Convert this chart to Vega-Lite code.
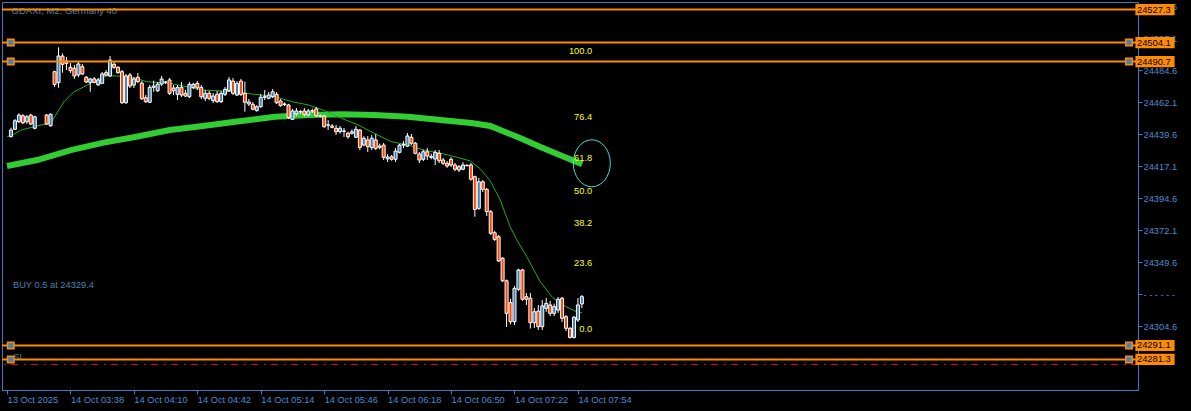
{
"$schema":"https://vega.github.io/schema/vega-lite/v6.json",
"width":1136,"height":388,
"autosize":{"type":"none"},
"padding":{"left":2,"top":2,"right":53,"bottom":21},
"background":"#000000",
"config":{"view":{"stroke":"#3f7cc4","strokeWidth":1},"font":"Liberation Sans",
 "axis":{"labelOverlap":false,"labelFlush":false,"labelBound":false,"grid":false,"domainColor":"#3f7cc4","tickColor":"#3f7cc4","labelColor":"#4d8ad4","labelFont":"Liberation Sans","labelFontSize":9.3,"tickSize":4},
 "axisY":{"labelOverlap":false,"labelBaseline":"middle","labelPadding":1,"tickCount":30},
 "axisX":{"labelOverlap":false,"labelAlign":"left","labelBaseline":"top","labelPadding":1,"tickCount":30}},
"datasets":{
"one":[{}],
"candles":[
{"i":1,"o":24437.9,"h":24444.2,"l":24437.5,"c":24442.6},
{"i":2,"o":24443.1,"h":24450.3,"l":24442.6,"c":24449.1},
{"i":3,"o":24448.4,"h":24454.3,"l":24447.7,"c":24453.1},
{"i":4,"o":24452.6,"h":24453.8,"l":24446.8,"c":24447.7},
{"i":5,"o":24448.4,"h":24453.1,"l":24447.0,"c":24451.9},
{"i":6,"o":24453.1,"h":24454.0,"l":24446.1,"c":24446.8},
{"i":7,"o":24443.8,"h":24452.6,"l":24443.1,"c":24451.9},
{"i":10,"o":24453.1,"h":24453.8,"l":24446.1,"c":24446.8},
{"i":11,"o":24445.6,"h":24454.3,"l":24444.9,"c":24453.6},
{"i":12,"o":24483.6,"h":24484.3,"l":24472.8,"c":24474.6},
{"i":13,"o":24475.9,"h":24500.7,"l":24472.3,"c":24494.6},
{"i":14,"o":24494.6,"h":24496.5,"l":24482.9,"c":24488.8},
{"i":15,"o":24491.1,"h":24494.0,"l":24484.8,"c":24489.5},
{"i":16,"o":24486.7,"h":24489.7,"l":24482.7,"c":24484.3},
{"i":17,"o":24486.0,"h":24488.3,"l":24478.5,"c":24480.6},
{"i":18,"o":24481.3,"h":24490.6,"l":24479.7,"c":24489.0},
{"i":19,"o":24487.1,"h":24489.0,"l":24481.3,"c":24482.0},
{"i":20,"o":24479.7,"h":24480.6,"l":24475.6,"c":24476.3},
{"i":21,"o":24476.1,"h":24479.2,"l":24469.5,"c":24478.5},
{"i":22,"o":24478.5,"h":24479.9,"l":24475.4,"c":24476.1},
{"i":23,"o":24474.4,"h":24479.2,"l":24473.5,"c":24477.8},
{"i":24,"o":24475.4,"h":24483.4,"l":24474.9,"c":24482.0},
{"i":25,"o":24482.9,"h":24484.8,"l":24480.6,"c":24481.1},
{"i":26,"o":24480.6,"h":24494.6,"l":24479.9,"c":24491.8},
{"i":27,"o":24488.8,"h":24490.4,"l":24485.5,"c":24486.7},
{"i":28,"o":24486.7,"h":24487.4,"l":24482.2,"c":24482.9},
{"i":29,"o":24483.6,"h":24484.8,"l":24460.9,"c":24461.8},
{"i":30,"o":24461.8,"h":24482.0,"l":24460.9,"c":24480.6},
{"i":31,"o":24481.3,"h":24482.7,"l":24472.1,"c":24473.5},
{"i":32,"o":24474.2,"h":24479.9,"l":24472.1,"c":24478.5},
{"i":33,"o":24479.7,"h":24482.7,"l":24475.6,"c":24476.6},
{"i":34,"o":24475.6,"h":24477.0,"l":24463.7,"c":24464.6},
{"i":35,"o":24465.3,"h":24467.2,"l":24461.6,"c":24462.5},
{"i":36,"o":24462.1,"h":24474.2,"l":24461.6,"c":24472.6},
{"i":37,"o":24472.6,"h":24477.3,"l":24469.5,"c":24473.5},
{"i":38,"o":24470.2,"h":24476.3,"l":24469.3,"c":24474.9},
{"i":39,"o":24474.9,"h":24480.6,"l":24473.5,"c":24478.5},
{"i":40,"o":24476.3,"h":24477.0,"l":24475.0,"c":24476.3},
{"i":41,"o":24477.8,"h":24479.2,"l":24467.2,"c":24468.4},
{"i":42,"o":24472.1,"h":24474.2,"l":24467.2,"c":24470.2},
{"i":43,"o":24467.7,"h":24474.2,"l":24463.7,"c":24472.6},
{"i":44,"o":24472.6,"h":24476.3,"l":24465.8,"c":24467.2},
{"i":45,"o":24468.4,"h":24470.7,"l":24465.8,"c":24466.5},
{"i":46,"o":24466.0,"h":24476.3,"l":24465.1,"c":24474.7},
{"i":47,"o":24472.6,"h":24475.6,"l":24471.4,"c":24474.7},
{"i":48,"o":24475.4,"h":24477.0,"l":24470.7,"c":24472.3},
{"i":49,"o":24472.6,"h":24474.2,"l":24464.4,"c":24466.0},
{"i":50,"o":24464.9,"h":24470.7,"l":24463.0,"c":24468.4},
{"i":51,"o":24468.4,"h":24470.0,"l":24463.7,"c":24464.9},
{"i":52,"o":24463.2,"h":24468.6,"l":24461.6,"c":24466.5},
{"i":53,"o":24467.7,"h":24470.0,"l":24461.6,"c":24462.5},
{"i":54,"o":24462.5,"h":24470.0,"l":24461.6,"c":24468.4},
{"i":55,"o":24467.7,"h":24472.8,"l":24466.5,"c":24471.2},
{"i":56,"o":24470.2,"h":24479.9,"l":24469.3,"c":24477.8},
{"i":57,"o":24477.0,"h":24479.2,"l":24467.2,"c":24468.4},
{"i":58,"o":24467.2,"h":24477.0,"l":24466.5,"c":24475.4},
{"i":59,"o":24477.0,"h":24478.5,"l":24466.5,"c":24467.7},
{"i":60,"o":24468.4,"h":24476.6,"l":24455.5,"c":24462.1},
{"i":61,"o":24460.9,"h":24464.4,"l":24459.5,"c":24462.3},
{"i":62,"o":24460.7,"h":24462.3,"l":24456.5,"c":24457.2},
{"i":63,"o":24456.2,"h":24460.0,"l":24455.5,"c":24459.0},
{"i":64,"o":24459.0,"h":24467.9,"l":24458.1,"c":24465.6},
{"i":65,"o":24465.6,"h":24470.7,"l":24463.7,"c":24466.0},
{"i":66,"o":24464.9,"h":24469.3,"l":24464.2,"c":24467.2},
{"i":67,"o":24466.0,"h":24471.4,"l":24465.1,"c":24469.5},
{"i":68,"o":24467.7,"h":24469.3,"l":24460.9,"c":24461.8},
{"i":69,"o":24463.0,"h":24464.4,"l":24459.0,"c":24459.7},
{"i":70,"o":24460.9,"h":24462.0,"l":24459.5,"c":24460.5},
{"i":71,"o":24460.2,"h":24461.0,"l":24450.5,"c":24451.5},
{"i":72,"o":24450.1,"h":24457.4,"l":24449.6,"c":24456.0},
{"i":73,"o":24453.9,"h":24458.1,"l":24452.4,"c":24456.0},
{"i":74,"o":24455.6,"h":24456.7,"l":24453.9,"c":24455.3},
{"i":75,"o":24456.0,"h":24458.1,"l":24452.0,"c":24453.6},
{"i":76,"o":24453.1,"h":24457.4,"l":24452.4,"c":24456.0},
{"i":77,"o":24456.2,"h":24457.7,"l":24454.5,"c":24455.8},
{"i":78,"o":24457.4,"h":24458.8,"l":24451.7,"c":24452.6},
{"i":79,"o":24452.6,"h":24453.5,"l":24451.5,"c":24452.4},
{"i":80,"o":24452.4,"h":24453.1,"l":24444.2,"c":24444.9},
{"i":81,"o":24446.2,"h":24449.6,"l":24442.6,"c":24446.0},
{"i":82,"o":24445.4,"h":24446.8,"l":24443.8,"c":24444.5},
{"i":83,"o":24443.8,"h":24446.1,"l":24439.1,"c":24441.4},
{"i":84,"o":24441.4,"h":24445.4,"l":24440.0,"c":24443.8},
{"i":85,"o":24441.9,"h":24444.0,"l":24437.7,"c":24441.7},
{"i":86,"o":24440.3,"h":24441.4,"l":24436.4,"c":24437.9},
{"i":87,"o":24440.3,"h":24443.1,"l":24439.3,"c":24441.4},
{"i":88,"o":24437.5,"h":24445.4,"l":24437.0,"c":24443.1},
{"i":89,"o":24442.6,"h":24443.3,"l":24428.5,"c":24430.4},
{"i":90,"o":24432.0,"h":24438.2,"l":24431.3,"c":24436.8},
{"i":91,"o":24435.6,"h":24438.4,"l":24427.1,"c":24430.9},
{"i":92,"o":24430.2,"h":24439.1,"l":24428.5,"c":24436.8},
{"i":93,"o":24435.6,"h":24439.8,"l":24428.5,"c":24429.7},
{"i":94,"o":24431.3,"h":24433.0,"l":24429.0,"c":24430.4},
{"i":95,"o":24432.0,"h":24433.5,"l":24421.5,"c":24423.4},
{"i":96,"o":24422.3,"h":24425.7,"l":24420.1,"c":24423.6},
{"i":97,"o":24423.8,"h":24425.0,"l":24421.0,"c":24422.0},
{"i":98,"o":24422.0,"h":24429.9,"l":24420.1,"c":24427.8},
{"i":99,"o":24426.9,"h":24432.8,"l":24426.2,"c":24432.0},
{"i":100,"o":24432.0,"h":24434.9,"l":24429.9,"c":24432.6},
{"i":101,"o":24431.3,"h":24440.5,"l":24430.6,"c":24438.4},
{"i":102,"o":24437.5,"h":24439.8,"l":24432.0,"c":24433.3},
{"i":103,"o":24433.3,"h":24434.2,"l":24425.5,"c":24426.2},
{"i":104,"o":24425.7,"h":24427.1,"l":24419.4,"c":24421.5},
{"i":105,"o":24422.0,"h":24428.7,"l":24420.8,"c":24427.3},
{"i":106,"o":24427.3,"h":24429.9,"l":24421.5,"c":24424.3},
{"i":107,"o":24424.0,"h":24426.0,"l":24422.0,"c":24423.4},
{"i":108,"o":24422.2,"h":24428.5,"l":24418.0,"c":24426.9},
{"i":109,"o":24426.2,"h":24428.5,"l":24419.4,"c":24421.0},
{"i":110,"o":24421.5,"h":24423.0,"l":24418.0,"c":24419.2},
{"i":111,"o":24419.2,"h":24420.8,"l":24416.0,"c":24417.3},
{"i":112,"o":24422.0,"h":24423.5,"l":24416.6,"c":24418.0},
{"i":113,"o":24418.0,"h":24419.4,"l":24413.6,"c":24415.0},
{"i":114,"o":24416.8,"h":24418.0,"l":24413.0,"c":24414.5},
{"i":115,"o":24415.0,"h":24420.0,"l":24414.3,"c":24418.0},
{"i":116,"o":24417.5,"h":24418.5,"l":24417.0,"c":24417.8},
{"i":117,"o":24418.0,"h":24419.4,"l":24407.0,"c":24408.0},
{"i":118,"o":24409.8,"h":24410.5,"l":24381.6,"c":24386.8},
{"i":119,"o":24387.5,"h":24408.9,"l":24386.4,"c":24406.2},
{"i":120,"o":24406.2,"h":24407.4,"l":24399.0,"c":24400.9},
{"i":121,"o":24400.9,"h":24401.8,"l":24382.1,"c":24385.2},
{"i":122,"o":24385.2,"h":24386.4,"l":24368.8,"c":24370.0},
{"i":123,"o":24370.4,"h":24371.6,"l":24364.6,"c":24365.7},
{"i":124,"o":24367.6,"h":24368.8,"l":24349.8,"c":24350.5},
{"i":125,"o":24352.4,"h":24353.3,"l":24335.6,"c":24336.6},
{"i":126,"o":24336.6,"h":24337.5,"l":24304.1,"c":24313.7},
{"i":127,"o":24321.2,"h":24324.0,"l":24306.0,"c":24307.8},
{"i":128,"o":24307.8,"h":24332.9,"l":24305.5,"c":24331.3},
{"i":129,"o":24330.6,"h":24345.0,"l":24329.5,"c":24344.2},
{"i":130,"o":24344.2,"h":24345.0,"l":24322.5,"c":24323.6},
{"i":131,"o":24325.4,"h":24328.0,"l":24319.5,"c":24323.6},
{"i":132,"o":24324.3,"h":24328.0,"l":24303.0,"c":24307.1},
{"i":133,"o":24307.1,"h":24317.4,"l":24303.4,"c":24314.8},
{"i":134,"o":24315.3,"h":24319.6,"l":24302.0,"c":24304.3},
{"i":135,"o":24304.3,"h":24323.0,"l":24302.0,"c":24318.9},
{"i":136,"o":24317.2,"h":24324.5,"l":24314.7,"c":24320.7},
{"i":137,"o":24319.6,"h":24322.4,"l":24311.8,"c":24313.7},
{"i":138,"o":24313.7,"h":24320.5,"l":24311.8,"c":24318.4},
{"i":139,"o":24316.0,"h":24325.2,"l":24314.0,"c":24323.6},
{"i":140,"o":24324.3,"h":24325.2,"l":24307.6,"c":24310.2},
{"i":141,"o":24311.3,"h":24312.5,"l":24301.3,"c":24303.2},
{"i":142,"o":24303.2,"h":24304.0,"l":24296.0,"c":24296.8},
{"i":143,"o":24296.8,"h":24312.0,"l":24296.0,"c":24310.9},
{"i":144,"o":24309.0,"h":24324.5,"l":24307.6,"c":24319.6},
{"i":145,"o":24320.3,"h":24326.6,"l":24317.4,"c":24325.4}
],
"maFast":[
{"i":0.05,"p":24437.9},{"i":1.9,"p":24439.8},{"i":3.55,"p":24442.6},{"i":7.6,"p":24445.4},{"i":11.05,"p":24447.7},
{"i":13.1,"p":24456.7},{"i":14.4,"p":24462.5},{"i":16.9,"p":24469.5},{"i":19.4,"p":24473.0},{"i":21.9,"p":24476.6},
{"i":23.6,"p":24478.9},{"i":25.1,"p":24480.6},{"i":27.6,"p":24480.6},{"i":30.1,"p":24480.2},{"i":32.6,"p":24478.9},
{"i":35.1,"p":24476.6},{"i":41.1,"p":24475.4},{"i":49.4,"p":24470.7},{"i":57.6,"p":24469.5},{"i":61.9,"p":24467.9},
{"i":67.6,"p":24466.0},{"i":71.9,"p":24462.5},{"i":76.1,"p":24460.2},{"i":80.1,"p":24456.2},{"i":84.4,"p":24450.8},
{"i":88.6,"p":24446.1},{"i":92.6,"p":24440.3},{"i":96.9,"p":24434.4},{"i":101.1,"p":24432.1},{"i":105.1,"p":24428.5},
{"i":109.4,"p":24426.2},{"i":113.6,"p":24423.4},{"i":116.9,"p":24420.8},{"i":119.4,"p":24415.2},{"i":121.9,"p":24406.7},
{"i":124.4,"p":24393.4},{"i":126.9,"p":24374.6},{"i":128.6,"p":24365.3},{"i":131.1,"p":24353.5},{"i":134.4,"p":24336.4},
{"i":137.6,"p":24324.8},{"i":141.1,"p":24318.2},{"i":143.6,"p":24315.0},{"i":145.05,"p":24314.1}
],
"maSlow":[
{"i":0,"p":24417.3},{"i":7.6,"p":24421.5},{"i":16.1,"p":24428.5},{"i":24.4,"p":24433.7},{"i":32.6,"p":24437.9},
{"i":41.1,"p":24442.6},{"i":49.4,"p":24445.4},{"i":57.6,"p":24448.4},{"i":67.6,"p":24451.9},{"i":76.1,"p":24453.1},
{"i":84.4,"p":24453.6},{"i":92.6,"p":24453.1},{"i":101.1,"p":24451.9},{"i":109.4,"p":24449.6},{"i":117.6,"p":24447.3},
{"i":121.9,"p":24445.4},{"i":124.4,"p":24442.6},{"i":129.4,"p":24437.0},{"i":134.4,"p":24430.9},{"i":139.4,"p":24425.0},
{"i":145.05,"p":24418.5}
],
"levels":[
{"price":24527.3,"handle":false},{"price":24504.1,"handle":true},{"price":24490.7,"handle":true},
{"price":24291.1,"handle":true},{"price":24281.3,"handle":true}
],
"fib":[
{"level":"100.0","price":24498.4},{"level":"76.4","price":24452.0},{"level":"61.8","price":24423.1},
{"level":"50.0","price":24399.9},{"level":"38.2","price":24377.4},{"level":"23.6","price":24348.9},{"level":"0.0","price":24302.5}
]
},
"layer":[
{"data":{"name":"maSlow"},"mark":{"type":"line","color":"#32CD32","strokeWidth":6},
 "encoding":{
  "x":{"field":"i","type":"quantitative","title":null,"scale":{"domain":[0,284],"nice":false,"zero":false},
   "axis":{"values":[0,16,32,48,64,80,96,112,128,144],"tickCount":30,
    "labelExpr":"['13 Oct 2025','14 Oct 03:38','14 Oct 04:10','14 Oct 04:42','14 Oct 05:14','14 Oct 05:46','14 Oct 06:18','14 Oct 06:50','14 Oct 07:22','14 Oct 07:54'][round(datum.value/16)]",
    "labelAlign":"left","labelBaseline":"top","labelPadding":1,"tickSize":4,"labelOverlap":false}},
  "y":{"field":"p","type":"quantitative","title":null,"scale":{"domain":[24259.8,24532.6],"nice":false,"zero":false},
   "axis":{"orient":"right","values":[24304.6,24327.1,24349.6,24372.1,24394.6,24417.1,24439.6,24462.1,24484.6,24507.1,24529.6],"tickCount":30,
    "labelExpr":"abs(datum.value-24327.1)<0.01 ? '-  - - - -  -' : format(datum.value,'.1f')",
    "labelBaseline":"middle","labelPadding":1,"tickSize":4,"labelOverlap":false}}
 }},
{"data":{"name":"maFast"},"mark":{"type":"line","color":"#1fae1f","strokeWidth":1},
 "encoding":{"x":{"field":"i","type":"quantitative","title":null},"y":{"field":"p","type":"quantitative","title":null}}},
{"data":{"name":"candles"},"mark":{"type":"rule","color":"#ffffff","strokeWidth":1},
 "encoding":{"x":{"field":"i","type":"quantitative","title":null},"y":{"field":"l","type":"quantitative","title":null},"y2":{"field":"h"}}},
{"data":{"name":"candles"},"mark":{"type":"bar","stroke":"#ffffff","strokeWidth":1,"width":3},
 "encoding":{"x":{"field":"i","type":"quantitative","title":null},"y":{"field":"o","type":"quantitative","title":null},"y2":{"field":"c"},
  "fill":{"condition":{"test":"datum.c >= datum.o","value":"#4682B4"},"value":"#FF4500"}}},
{"data":{"name":"one"},"mark":{"type":"text","align":"left","baseline":"middle","fontSize":9.5,"color":"#4682B4","font":"Liberation Sans","text":"GDAXI, M2:  Germany 40"},
 "encoding":{"x":{"datum":1.15,"type":"quantitative"},"y":{"datum":24526.6,"type":"quantitative"}}},
{"data":{"name":"one"},"mark":{"type":"text","align":"left","baseline":"middle","fontSize":9.3,"color":"#4682B4","font":"Liberation Sans","text":"BUY 0.5 at 24329.4"},
 "encoding":{"x":{"datum":1.5,"type":"quantitative"},"y":{"datum":24333.3,"type":"quantitative"}}},
{"data":{"name":"one"},"mark":{"type":"text","align":"left","baseline":"middle","fontSize":9.3,"color":"#4682B4","font":"Liberation Sans","text":"SL"},
 "encoding":{"x":{"datum":1.6,"type":"quantitative"},"y":{"datum":24283.0,"type":"quantitative"}}},
{"data":{"name":"one"},"mark":{"type":"rule","color":"#d81818","strokeWidth":1,"strokeDash":[7,5,2,6]},
 "encoding":{"y":{"datum":24277.8,"type":"quantitative"}}},
{"data":{"name":"levels"},"mark":{"type":"rule","color":"#FF8C00","strokeWidth":2},
 "encoding":{"y":{"field":"price","type":"quantitative","title":null}}},
{"data":{"name":"levels"},"transform":[{"filter":"datum.handle"}],
 "mark":{"type":"point","shape":"square","size":42,"filled":true,"fill":"#4682B4","stroke":"#FF8C00","strokeWidth":1.5,"opacity":1},
 "encoding":{"x":{"datum":0.95,"type":"quantitative"},"y":{"field":"price","type":"quantitative","title":null}}},
{"data":{"name":"levels"},"transform":[{"filter":"datum.handle"}],
 "mark":{"type":"point","shape":"square","size":42,"filled":true,"fill":"#4682B4","stroke":"#FF8C00","strokeWidth":1.5,"opacity":1},
 "encoding":{"x":{"datum":283,"type":"quantitative"},"y":{"field":"price","type":"quantitative","title":null}}},
{"data":{"name":"fib"},"mark":{"type":"text","align":"right","baseline":"middle","fontSize":9.3,"color":"#FFFF00","font":"Liberation Sans"},
 "encoding":{"x":{"datum":147.6,"type":"quantitative"},"y":{"field":"price","type":"quantitative","title":null},"text":{"field":"level"}}},
{"data":{"name":"one"},"mark":{"type":"point","shape":"M -0.787 0 A 0.787 1 0 1 0 0.787 0 A 0.787 1 0 1 0 -0.787 0 Z","size":2209,"filled":false,"stroke":"#40E0D0","strokeWidth":1,"opacity":1},
 "encoding":{"x":{"datum":147.5,"type":"quantitative"},"y":{"datum":24419.2,"type":"quantitative"}}},
{"data":{"name":"levels"},
 "mark":{"type":"point","shape":"M 0.12 -0.28 H 2.08 V 0.28 H 0.12 Z","size":1600,"filled":true,"fill":"#FF8C00","strokeWidth":0,"opacity":1},
 "encoding":{"x":{"datum":284,"type":"quantitative"},"y":{"field":"price","type":"quantitative","title":null}}},
{"data":{"name":"levels"},
 "mark":{"type":"text","align":"left","baseline":"middle","dx":4,"fontSize":9.3,"color":"#000000","font":"Liberation Sans"},
 "encoding":{"x":{"datum":284,"type":"quantitative"},"y":{"field":"price","type":"quantitative","title":null},"text":{"field":"price","type":"quantitative","format":".1f"}}}
]
}
